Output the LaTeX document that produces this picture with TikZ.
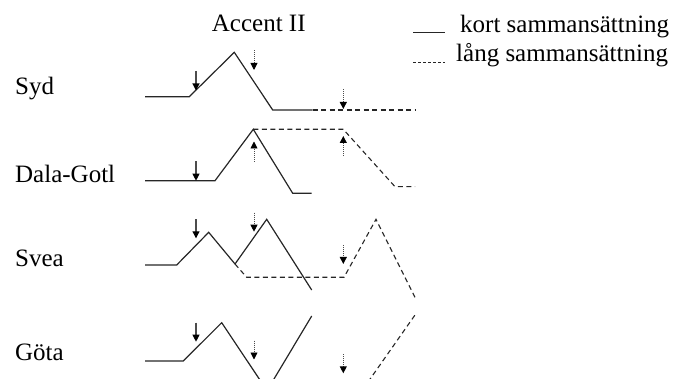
\documentclass[tikz,border=0pt]{standalone}
\usepackage{fontspec}
\setmainfont{Liberation Serif}
\usetikzlibrary{arrows.meta}
\begin{document}
\begin{tikzpicture}[x=1pt,y=-1pt,
  lbl/.style={anchor=base west,inner sep=0pt,font=\fontsize{25}{28}\selectfont},
  kort/.style={line width=1.2pt,color=black!85,line join=miter},
  lang/.style={line width=1.1pt,color=black!85,dash pattern=on 5pt off 3.5pt},
  sarrow/.style={line width=1.1pt,color=black!70,-{Triangle[length=7pt,width=7pt,color=black]}},
  darrow/.style={line width=0.9pt,color=black!70,dash pattern=on 1pt off 1pt,-{Triangle[length=7pt,width=7pt,color=black]}}
]
\useasboundingbox (0,0) rectangle (680,379);
\clip (0,0) rectangle (680,379);
% texts
\node[lbl] (title) at (211.7,31.7) {Accent II};
\node[lbl] (syd) at (15,95) {Syd};
\node[lbl] (dala) at (15,182.5) {Dala-Gotl};
\node[lbl] (svea) at (15,266.5) {Svea};
\node[lbl] (gota) at (15,360.5) {Göta};
% legend
\draw[kort] (413,32.3) -- (445,32.3);
\node[lbl] (lkort) at (460,33) {kort sammansättning};
\draw[line width=0.9pt,color=black!85,dash pattern=on 3pt off 2pt] (413,62.3) -- (445,62.3);
\node[lbl] (llang) at (456,62) {lång sammansättning};
% Syd
\draw[kort] (145,96.7) -- (189.3,96.7) -- (234.3,52.3) -- (272.7,110) -- (312.7,110);
\draw[lang] (312.7,110) -- (415,110);
\draw[sarrow] (196,71) -- (196,90.5);
\draw[darrow] (254,50.5) -- (254,70);
\draw[darrow] (343.3,89.5) -- (343.3,109);
% Dala-Gotl
\draw[kort] (145,180.7) -- (215,180.7) -- (253.3,129.3) -- (292.7,193.3) -- (311.7,193.3);
\draw[lang] (253.3,129.3) -- (343.3,129.3) -- (395,186.7) -- (415,186.7);
\draw[sarrow] (196,161.5) -- (196,180.7);
\draw[darrow] (254,162) -- (254,141.5);
\draw[darrow] (343.3,156) -- (343.3,136);
% Svea
\draw[kort] (145,265) -- (176.7,265) -- (208.7,232.3) -- (235,264);
\draw[kort] (235,264) -- (266.7,219.3) -- (311.7,290);
\draw[lang] (235,264) -- (246.7,277.3) -- (344,277.3) -- (376,219.3) -- (415,297.3);
\draw[sarrow] (196,219.3) -- (196,238.3);
\draw[darrow] (254,212.7) -- (254,231.7);
\draw[darrow] (343.3,245) -- (343.3,264);
% Gota
\draw[kort] (145,361) -- (183.3,361) -- (221.7,322.7) -- (261.3,382);
\draw[kort] (272.2,382) -- (311.7,316);
\draw[lang] (368,382) -- (415,315);
\draw[sarrow] (196,322.7) -- (196,341.7);
\draw[darrow] (254,340.7) -- (254,359.5);
\draw[darrow] (343.3,354) -- (343.3,373.3);
\end{tikzpicture}
\end{document}
